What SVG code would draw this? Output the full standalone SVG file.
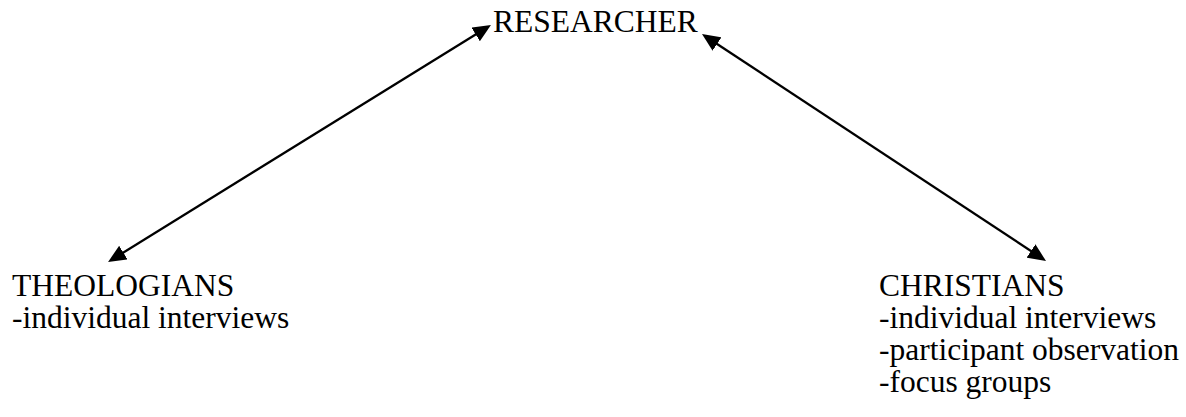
<svg xmlns="http://www.w3.org/2000/svg" width="1186" height="417" viewBox="0 0 1186 417">
  <style>
    .lbl { font-family: "Liberation Serif", "Times New Roman", serif; font-size: 31.5px; fill: #000; }
    .conn { stroke: #000; stroke-width: 2.3; fill: none; marker-start: url(#ah); marker-end: url(#ah); }
  </style>
  <defs>
    <marker id="ah" viewBox="0 0 18 16" refX="9" refY="8" markerWidth="18" markerHeight="16" markerUnits="userSpaceOnUse" orient="auto-start-reverse">
      <path d="M0,0 L18,8 L0,16 z" fill="#000"/>
    </marker>
  </defs>
  <rect width="1186" height="417" fill="#fff"/>
  <g id="connectors">
    <line class="conn" x1="115.7" y1="257.3" x2="483.3" y2="29.7"/>
    <line class="conn" x1="709.5" y1="39" x2="1038.5" y2="256"/>
  </g>
  <g id="researcher">
    <text class="lbl" x="493" y="32">RESEARCHER</text>
  </g>
  <g id="theologians">
    <text class="lbl" x="12" y="296">THEOLOGIANS</text>
    <text class="lbl" x="12" y="328">-individual interviews</text>
  </g>
  <g id="christians">
    <text class="lbl" x="879" y="296">CHRISTIANS</text>
    <text class="lbl" x="879" y="328">-individual interviews</text>
    <text class="lbl" x="879" y="360">-participant observation</text>
    <text class="lbl" x="879" y="392">-focus groups</text>
  </g>
</svg>
